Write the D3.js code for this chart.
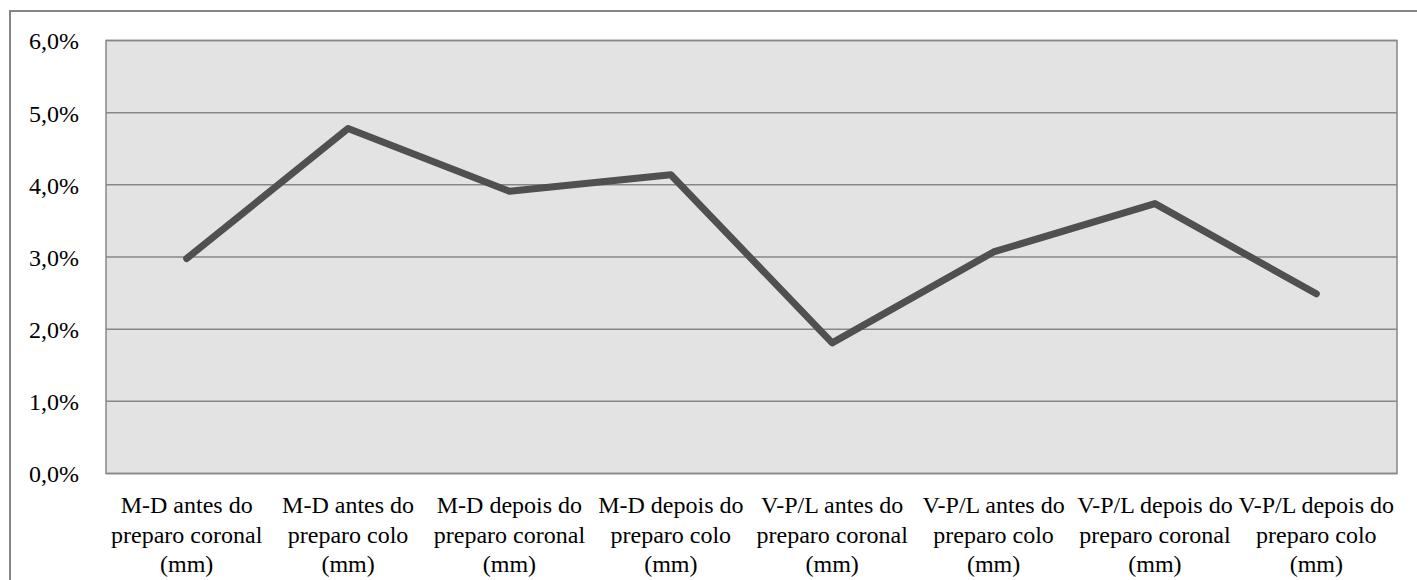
<!DOCTYPE html>
<html>
<head>
<meta charset="utf-8">
<script src="https://cdn.jsdelivr.net/npm/d3@7"></script>
</head>
<body style="margin:0">
<svg id="chart" width="1417" height="580" font-family="Liberation Serif"></svg>
<script>
// Category labels (each split into lines)
const categories = [
  ["M-D antes do", "preparo coronal", "(mm)"],
  ["M-D antes do", "preparo colo", "(mm)"],
  ["M-D depois do", "preparo coronal", "(mm)"],
  ["M-D depois do", "preparo colo", "(mm)"],
  ["V-P/L antes do", "preparo coronal", "(mm)"],
  ["V-P/L antes do", "preparo colo", "(mm)"],
  ["V-P/L depois do", "preparo coronal", "(mm)"],
  ["V-P/L depois do", "preparo colo", "(mm)"]
];
// Percentage values (as fractions)
const values = [0.0298, 0.0478, 0.0391, 0.0414, 0.0181, 0.0307, 0.0374, 0.0249];
// Y axis ticks
const yTicks = [0, 0.01, 0.02, 0.03, 0.04, 0.05, 0.06];
const yTickLabels = ["0,0%", "1,0%", "2,0%", "3,0%", "4,0%", "5,0%", "6,0%"];

const svg = d3.select("#chart");
const plot = { left: 106, top: 40.5, right: 1397, bottom: 473.5 };

// Outer chart frame
svg.append("rect")
  .attr("x", 10).attr("y", 11)
  .attr("width", 1440).attr("height", 600)
  .attr("fill", "none")
  .attr("stroke", "#868686")
  .attr("stroke-width", 2);

const x = d3.scaleBand()
  .domain(d3.range(categories.length))
  .range([plot.left, plot.right]);

const y = d3.scaleLinear()
  .domain([0, 0.06])
  .range([plot.bottom, plot.top]);

// Plot background
svg.append("rect")
  .attr("x", plot.left).attr("y", plot.top)
  .attr("width", plot.right - plot.left)
  .attr("height", plot.bottom - plot.top)
  .attr("fill", "#e3e3e3")
  .attr("stroke", "#878787")
  .attr("stroke-width", 1.5);

// Horizontal gridlines
svg.append("g")
  .selectAll("line")
  .data(yTicks)
  .join("line")
  .attr("x1", plot.left).attr("x2", plot.right)
  .attr("y1", d => y(d)).attr("y2", d => y(d))
  .attr("stroke", "#878787")
  .attr("stroke-width", 1.5);

// Y axis labels
const gy = svg.append("g")
  .attr("transform", `translate(${plot.left},0)`)
  .call(d3.axisLeft(y)
    .tickValues(yTicks)
    .tickFormat((d, i) => yTickLabels[i])
    .tickSize(0)
    .tickPadding(27));
gy.attr("font-family", null).attr("font-size", null);
gy.select(".domain").remove();
gy.selectAll("text")
  .attr("font-family", "Liberation Serif")
  .attr("font-size", 24)
  .attr("fill", "#000")
  .attr("dy", "0.35em");

// X axis category labels
const gx = svg.append("g");
categories.forEach((lines, i) => {
  const cx = x(i) + x.bandwidth() / 2;
  const t = gx.append("text")
    .attr("x", cx)
    .attr("y", 513)
    .attr("text-anchor", "middle")
    .attr("font-family", "Liberation Serif")
    .attr("font-size", 24)
    .attr("fill", "#000");
  lines.forEach((ln, j) => {
    t.append("tspan")
      .attr("x", cx)
      .attr("dy", j === 0 ? 0 : 29.5)
      .text(ln);
  });
});

// Data line
svg.append("path")
  .datum(values)
  .attr("d", d3.line()
    .x((d, i) => x(i) + x.bandwidth() / 2)
    .y(d => y(d)))
  .attr("fill", "none")
  .attr("stroke", "#505050")
  .attr("stroke-width", 7)
  .attr("stroke-linejoin", "round")
  .attr("stroke-linecap", "round");
</script>
</body>
</html>
